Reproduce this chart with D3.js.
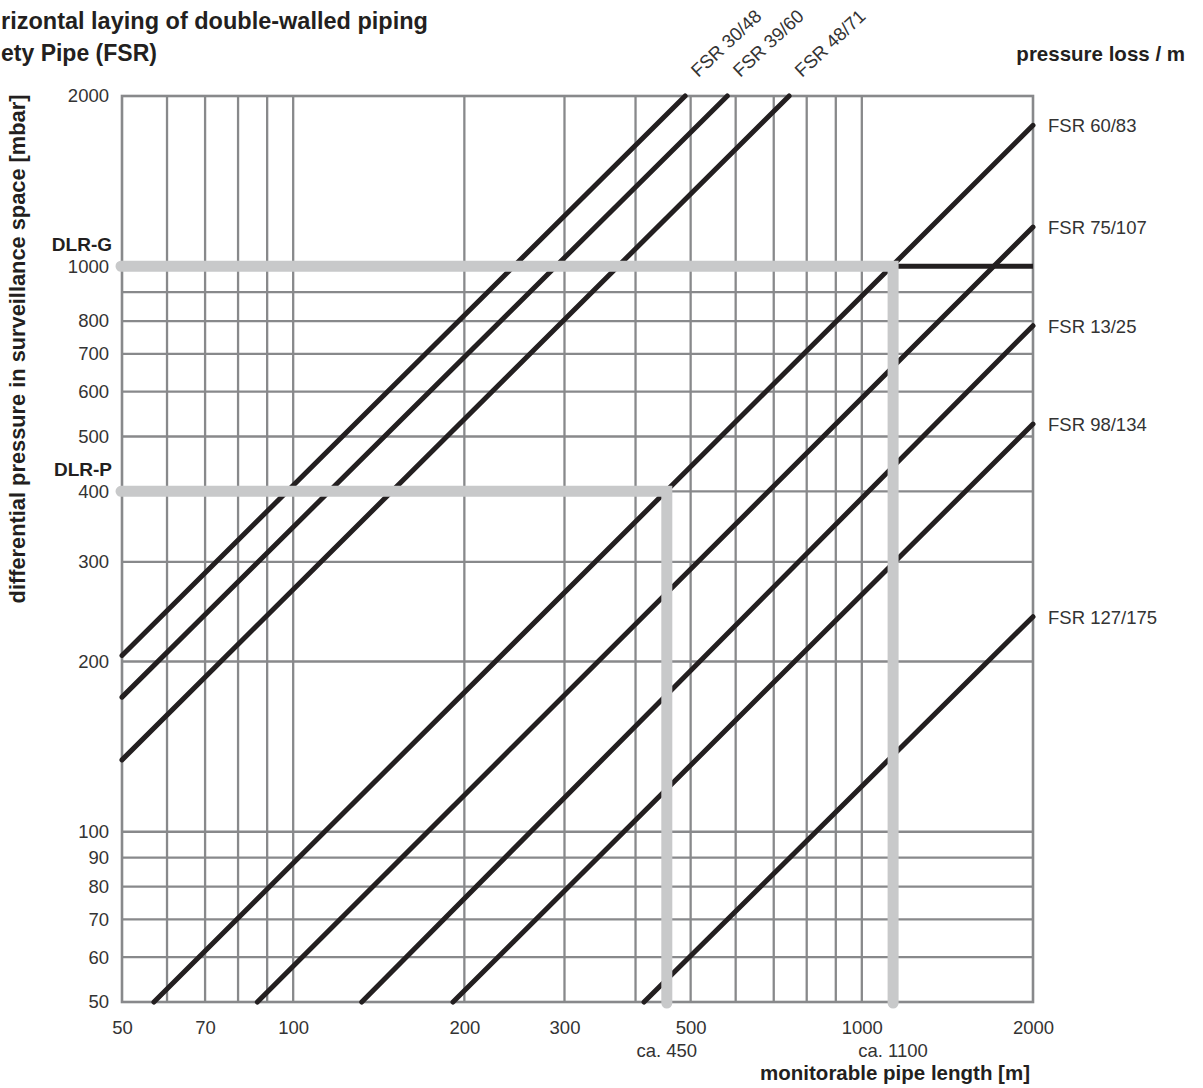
<!DOCTYPE html>
<html>
<head>
<meta charset="utf-8">
<script src="https://cdn.jsdelivr.net/npm/d3@7"></script>
<style>
  body { margin: 0; background: #fff; }
  svg { display: block; font-family: "Liberation Sans", Arial, sans-serif; }
</style>
</head>
<body>
<div id="chart"></div>
<script>
// grid positions (m / mbar)
const xGrid = [60, 70, 80, 90, 100, 200, 300, 400, 500, 600, 700, 800, 900, 1000];
const yGrid = [60, 70, 80, 90, 100, 200, 300, 400, 500, 600, 700, 800, 900, 1000];
const xTickLabels = [50, 70, 100, 200, 300, 500, 1000, 2000];
const yTickLabels = [50, 60, 70, 80, 90, 100, 200, 300, 400, 500, 600, 700, 800, 1000, 2000];

// pressure loss lines, each from [length, pressure] to [length, pressure]
const pipeNames = ['FSR 30/48', 'FSR 39/60', 'FSR 48/71', 'FSR 60/83', 'FSR 75/107', 'FSR 13/25', 'FSR 98/134', 'FSR 127/175'];
const pipeStart = [[50, 205], [50, 173], [50, 134], [56.9, 50], [86.5, 50], [132, 50], [191, 50], [414, 50]];
const pipeEnd = [[489, 2000], [580, 2000], [745, 2000], [2000, 1775], [2000, 1173], [2000, 785], [2000, 526], [2000, 240]];

// device limits: DLR-G 1000 mbar -> ca. 1100 m, DLR-P 400 mbar -> ca. 450 m
const devices = ['DLR-G', 'DLR-P'];
const devicePressure = [1000, 400];
const deviceLength = [1135, 454];
const deviceLabel = ['ca. 1100', 'ca. 450'];

const W = 1203, H = 1088;
const svg = d3.select('#chart').append('svg')
  .attr('width', W)
  .attr('height', H);

const x = d3.scaleLog().domain([50, 2000]).range([122, 1033]);
const y = d3.scaleLog().domain([50, 2000]).range([1002, 96]);

const gridColor = '#88898b';
const ink = '#231f20';
const textColor = '#333';
const fontSize = 18.5;

// grid
const grid = svg.append('g');
grid.selectAll('.vx').data(xGrid).enter().append('line')
  .attr('x1', d => x(d)).attr('x2', d => x(d))
  .attr('y1', y(50)).attr('y2', y(2000))
  .attr('stroke', gridColor).attr('stroke-width', 2.3);
grid.selectAll('.hy').data(yGrid).enter().append('line')
  .attr('x1', x(50)).attr('x2', x(2000))
  .attr('y1', d => y(d)).attr('y2', d => y(d))
  .attr('stroke', gridColor).attr('stroke-width', 2.3);
grid.append('rect')
  .attr('x', x(50)).attr('y', y(2000))
  .attr('width', x(2000) - x(50)).attr('height', y(50) - y(2000))
  .attr('fill', 'none').attr('stroke', gridColor).attr('stroke-width', 2.6);

// pipe lines
svg.append('g').selectAll('line').data(pipeNames).enter().append('line')
  .attr('x1', (d, i) => x(pipeStart[i][0]))
  .attr('y1', (d, i) => y(pipeStart[i][1]))
  .attr('x2', (d, i) => x(pipeEnd[i][0]))
  .attr('y2', (d, i) => y(pipeEnd[i][1]))
  .attr('stroke', ink).attr('stroke-width', 5)
  .attr('stroke-linecap', 'round');

// black limit line at 1000 mbar past the DLR-G point
svg.append('line')
  .attr('x1', x(deviceLength[0])).attr('x2', x(2000))
  .attr('y1', y(1000)).attr('y2', y(1000))
  .attr('stroke', ink).attr('stroke-width', 5);

// grey device paths
const line = d3.line();
svg.append('g').selectAll('path').data(devices).enter().append('path')
  .attr('d', (d, i) => line([
    [x(50) - 1, y(devicePressure[i])],
    [x(deviceLength[i]), y(devicePressure[i])],
    [x(deviceLength[i]), y(50) + 1]
  ]))
  .attr('fill', 'none').attr('stroke', '#c8c9ca').attr('stroke-width', 11)
  .attr('stroke-linecap', 'round').attr('stroke-linejoin', 'miter');

// axis tick labels
const xAxis = svg.append('g')
  .attr('transform', `translate(0,${y(50) + 16})`)
  .call(d3.axisBottom(x).tickValues(xTickLabels).tickFormat(d3.format('d')).tickSize(0));
xAxis.select('.domain').remove();
xAxis.selectAll('text').attr('font-size', fontSize).attr('fill', textColor)
  .attr('font-family', '"Liberation Sans", Arial, sans-serif');

const yAxis = svg.append('g')
  .attr('transform', `translate(${x(50) - 10},0)`)
  .call(d3.axisLeft(y).tickValues(yTickLabels).tickFormat(d3.format('d')).tickSize(0));
yAxis.select('.domain').remove();
yAxis.selectAll('text').attr('font-size', fontSize).attr('fill', textColor)
  .attr('font-family', '"Liberation Sans", Arial, sans-serif');

// device labels
devices.forEach((d, i) => {
  svg.append('text')
    .attr('x', x(50) - 10).attr('y', y(devicePressure[i]) - 15)
    .attr('text-anchor', 'end').attr('font-size', 19).attr('font-weight', 'bold')
    .attr('fill', ink).text(d);
  svg.append('text')
    .attr('x', x(deviceLength[i])).attr('y', y(50) + 55)
    .attr('text-anchor', 'middle').attr('font-size', fontSize)
    .attr('fill', textColor).text(deviceLabel[i]);
});

// pipe labels
pipeNames.forEach((name, i) => {
  const e = pipeEnd[i];
  if (e[1] >= 2000) {
    svg.append('text')
      .attr('transform', `translate(${x(e[0]) + 13},${y(e[1]) - 18}) rotate(-43)`)
      .attr('font-size', fontSize).attr('fill', textColor).text(name);
  } else {
    svg.append('text')
      .attr('x', x(2000) + 15).attr('y', y(e[1]) + 7)
      .attr('font-size', fontSize).attr('fill', textColor).text(name);
  }
});

// titles
svg.append('text')
  .attr('x', 1).attr('y', 29)
  .attr('font-size', 23.5).attr('font-weight', 'bold').attr('fill', ink)
  .text('rizontal laying of double-walled piping');
svg.append('text')
  .attr('x', 1).attr('y', 61)
  .attr('font-size', 23).attr('font-weight', 'bold').attr('fill', ink)
  .text('ety Pipe (FSR)');
svg.append('text')
  .attr('x', 1185).attr('y', 61).attr('text-anchor', 'end')
  .attr('font-size', 20.5).attr('font-weight', 'bold').attr('fill', ink)
  .text('pressure loss / m');
svg.append('text')
  .attr('x', 1030).attr('y', 1080).attr('text-anchor', 'end')
  .attr('font-size', 20.5).attr('font-weight', 'bold').attr('fill', ink)
  .text('monitorable pipe length [m]');
svg.append('text')
  .attr('transform', `translate(25,349) rotate(-90)`)
  .attr('text-anchor', 'middle')
  .attr('font-size', 21.8).attr('font-weight', 'bold').attr('fill', ink)
  .text('differential pressure in surveillance space [mbar]');
</script>
</body>
</html>
